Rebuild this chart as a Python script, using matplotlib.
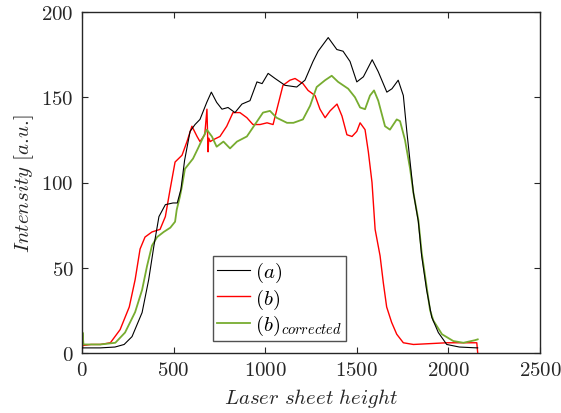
import matplotlib
matplotlib.use("Agg")
import matplotlib.pyplot as plt

# Intensity profiles along the laser sheet

x_a = [0, 100, 180, 230, 273, 328, 364, 392, 420, 455, 497, 520, 540, 560,
       590, 617, 644, 681, 706, 735, 764, 797, 835, 873, 917, 955, 983, 1016,
       1054, 1108, 1172, 1217, 1261, 1289, 1344, 1391, 1425, 1463, 1500, 1536,
       1584, 1617, 1664, 1692, 1726, 1754, 1773, 1791, 1809, 1836, 1854, 1881,
       1909, 1945, 1991, 2060, 2135, 2160]
y_a = [3, 3, 3.5, 5, 9.6, 23.7, 43, 62.5, 80, 87, 88, 88, 96, 113,
       130, 134, 137, 147, 153, 147, 143, 144, 141, 146, 148, 159, 158, 164,
       161, 157, 156, 160, 171, 177, 185, 178, 177, 171, 159, 162,
       172, 165, 153, 155, 160, 151, 130, 112, 94, 77, 57, 37,
       21, 12, 5, 3.5, 3.1, 3]

x_b = [0, 5, 10, 50, 100, 155, 208, 258, 290, 317, 344, 382, 426, 455, 481,
       508, 546, 573, 600, 628, 644, 670, 682, 688, 692, 700, 715, 753, 790,
       824, 862, 900, 933, 972, 1010, 1043, 1064, 1097, 1135, 1163, 1206,
       1234, 1272, 1299, 1327, 1354, 1392, 1419, 1446, 1474, 1500, 1518, 1545,
       1563, 1583, 1600, 1627, 1645, 1663, 1690, 1718, 1754, 1809, 1900, 1991,
       2080, 2135, 2155, 2160]
y_b = [1, 5, 4.5, 5, 5, 6, 13.7, 27, 43, 61, 68, 71, 72.5, 80, 96,
       112, 116, 124, 133, 127, 124, 128, 143, 118, 126, 124, 125, 127, 133,
       141, 141, 138, 134, 134, 135, 134, 143, 157, 160, 161,
       158, 154, 151, 143, 138, 142, 146, 139, 128, 127, 130, 135, 131,
       118, 100, 72.5, 57, 41, 27, 18, 11, 6, 5, 5.5, 6,
       6, 6, 6, 0]

x_c = [0, 3, 8, 50, 100, 182, 235, 290, 328, 355, 382, 410, 446, 482, 508,
       517, 535, 546, 562, 606, 633, 681, 709, 735, 772, 808, 846, 900, 944,
       988, 1026, 1062, 1119, 1154, 1206, 1245, 1281, 1327, 1363, 1398, 1453,
       1490, 1518, 1545, 1572, 1594, 1617, 1654, 1681, 1718, 1736, 1763, 1791,
       1809, 1836, 1854, 1881, 1900, 1918, 1965, 2027, 2082, 2145, 2160]
y_c = [5, 12, 5, 5, 5, 6, 12, 24, 37, 51, 63, 68, 71, 73.5, 77,
       84, 92, 98, 108, 114, 120, 131, 127, 121, 124, 120, 124, 127, 134,
       141, 142, 138, 135, 135, 137, 145, 156, 160, 162.6, 159, 155,
       150, 144, 143, 151, 154, 148, 133, 131, 137, 136, 125, 108,
       94, 78, 59, 39, 25, 19, 11, 7, 6, 7.5, 8]

labels = [r"$(a)$", r"$(b)$", r"$(b)_{corrected}$"]
x_ticks = [0, 500, 1000, 1500, 2000, 2500]
y_ticks = [0, 50, 100, 150, 200]

plt.rcParams.update({
    "font.family": "serif",
    "font.serif": ["cmr10", "DejaVu Serif"],
    "mathtext.fontset": "cm",
    "axes.formatter.use_mathtext": True,
    "axes.unicode_minus": False,
})

fig = plt.figure(figsize=(5.61, 4.14), dpi=100)
ax = fig.add_axes([82 / 561, 60 / 414, 458 / 561, 341 / 414])

ax.plot(x_a, y_a, color="black", linewidth=0.8, label=labels[0], zorder=3)
ax.plot(x_b, y_b, color="#ff0000", linewidth=1.0, label=labels[1], zorder=2)
ax.plot(x_c, y_c, color="#77ac30", linewidth=1.3, label=labels[2], zorder=2)

ax.set_xlim(0, 2500)
ax.set_ylim(0, 200)
ax.set_xticks(x_ticks)
ax.set_yticks(y_ticks)
ax.tick_params(direction="in", top=True, right=True, length=4.5, width=0.8,
               color="#262626", labelsize=15, labelcolor="#262626", pad=6)
for s in ax.spines.values():
    s.set_color("#262626")
    s.set_linewidth(1.0)

ax.set_xlabel(r"$Laser\ sheet\ height$", fontsize=15, color="#262626", labelpad=5)
ax.set_ylabel(r"$Intensity$ [$a$.$u$.]", fontsize=15, color="#262626", labelpad=4)

leg = ax.legend(loc="lower left", bbox_to_anchor=(0.286, 0.035), borderaxespad=0,
                fontsize=15, frameon=True, fancybox=False, handlelength=1.6,
                handletextpad=0.2, borderpad=0.2, labelspacing=0.1)
leg.get_frame().set_edgecolor("#262626")
leg.get_frame().set_linewidth(1.0)

fig.savefig("out.png", dpi=100)
